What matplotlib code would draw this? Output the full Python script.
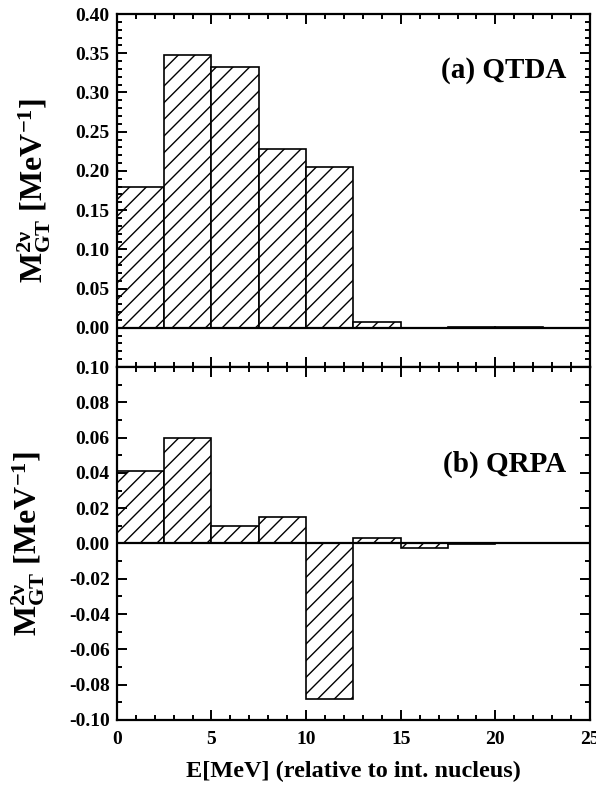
import matplotlib
matplotlib.use("Agg")
import matplotlib.pyplot as plt
from matplotlib.ticker import MultipleLocator, FuncFormatter
import numpy as np

# energy bins (MeV, relative to intermediate nucleus), 2.5 MeV wide
bin_left = [0.0, 2.5, 5.0, 7.5, 10.0, 12.5, 15.0, 17.5, 20.0, 22.5]
bin_width = 2.5

# contributions per bin
qtda = [0.180, 0.348, 0.333, 0.228, 0.205, 0.007, 0.0, 0.001, 0.001, -0.0005]
qrpa = [0.041, 0.060, 0.010, 0.015, -0.088, 0.003, -0.0025, -0.0005, 0.0, 0.0]

plt.rcParams['font.family'] = 'Liberation Serif'
plt.rcParams['font.weight'] = 'bold'
plt.rcParams['axes.unicode_minus'] = False
plt.rcParams['mathtext.fontset'] = 'custom'
plt.rcParams['mathtext.rm'] = 'Liberation Serif:bold'
plt.rcParams['mathtext.bf'] = 'Liberation Serif:bold'
plt.rcParams['mathtext.it'] = 'Liberation Serif:bold'
plt.rcParams['hatch.linewidth'] = 1.0

fig = plt.figure(figsize=(5.96, 7.91), dpi=100)
ax1 = fig.add_axes([0.196, 0.536, 0.794, 0.4463])
ax2 = fig.add_axes([0.196, 0.0898, 0.794, 0.4462])

ylabel = r'$\mathrm{M}^{2\nu}_{\mathrm{GT}}$ [MeV$^{\mathrm{-1}}$]'

def fmt(v, pos):
    s = '%.2f' % v
    return '0.00' if s == '-0.00' else s

def style(ax):
    for s in ax.spines.values():
        s.set_linewidth(1.6)
    ax.set_xlim(0, 25)
    ax.xaxis.set_major_locator(MultipleLocator(5))
    ax.xaxis.set_minor_locator(MultipleLocator(1))
    ax.yaxis.set_major_formatter(FuncFormatter(fmt))
    ax.tick_params(which='both', direction='in', top=True, right=True, width=1.4)
    ax.tick_params(which='major', length=7, labelsize=14)
    ax.tick_params(axis='y', which='major', pad=5)
    ax.tick_params(axis='x', which='major', pad=8)
    ax.tick_params(which='minor', length=3.5)
    ax.axhline(0, color='black', lw=1.6, zorder=3)

ax1.bar(bin_left, qtda, width=bin_width, align='edge', facecolor='white',
        edgecolor='black', linewidth=1.2, hatch='//')
ax1.set_ylim(-0.05, 0.40)
ax1.set_yticks(np.arange(0, 0.401, 0.05))
ax1.yaxis.set_minor_locator(MultipleLocator(0.01))
style(ax1)
ax1.set_xticklabels([])
ax1.set_ylabel(ylabel, fontsize=23, fontweight='bold', labelpad=16)
ax1.text(0.95, 0.84, '(a) QTDA', transform=ax1.transAxes, ha='right', va='center',
         fontsize=21, fontweight='bold')

ax2.bar(bin_left, qrpa, width=bin_width, align='edge', facecolor='white',
        edgecolor='black', linewidth=1.2, hatch='//')
ax2.set_ylim(-0.10, 0.10)
ax2.yaxis.set_major_locator(MultipleLocator(0.02))
ax2.yaxis.set_minor_locator(MultipleLocator(0.01))
style(ax2)
ax2.set_ylabel(ylabel, fontsize=23, fontweight='bold', labelpad=16)
ax2.set_xlabel('E[MeV] (relative to int. nucleus)', fontsize=17.5, fontweight='bold', labelpad=9)
ax2.text(0.95, 0.725, '(b) QRPA', transform=ax2.transAxes, ha='right', va='center',
         fontsize=21, fontweight='bold')

fig.savefig('out.png', dpi=100)
